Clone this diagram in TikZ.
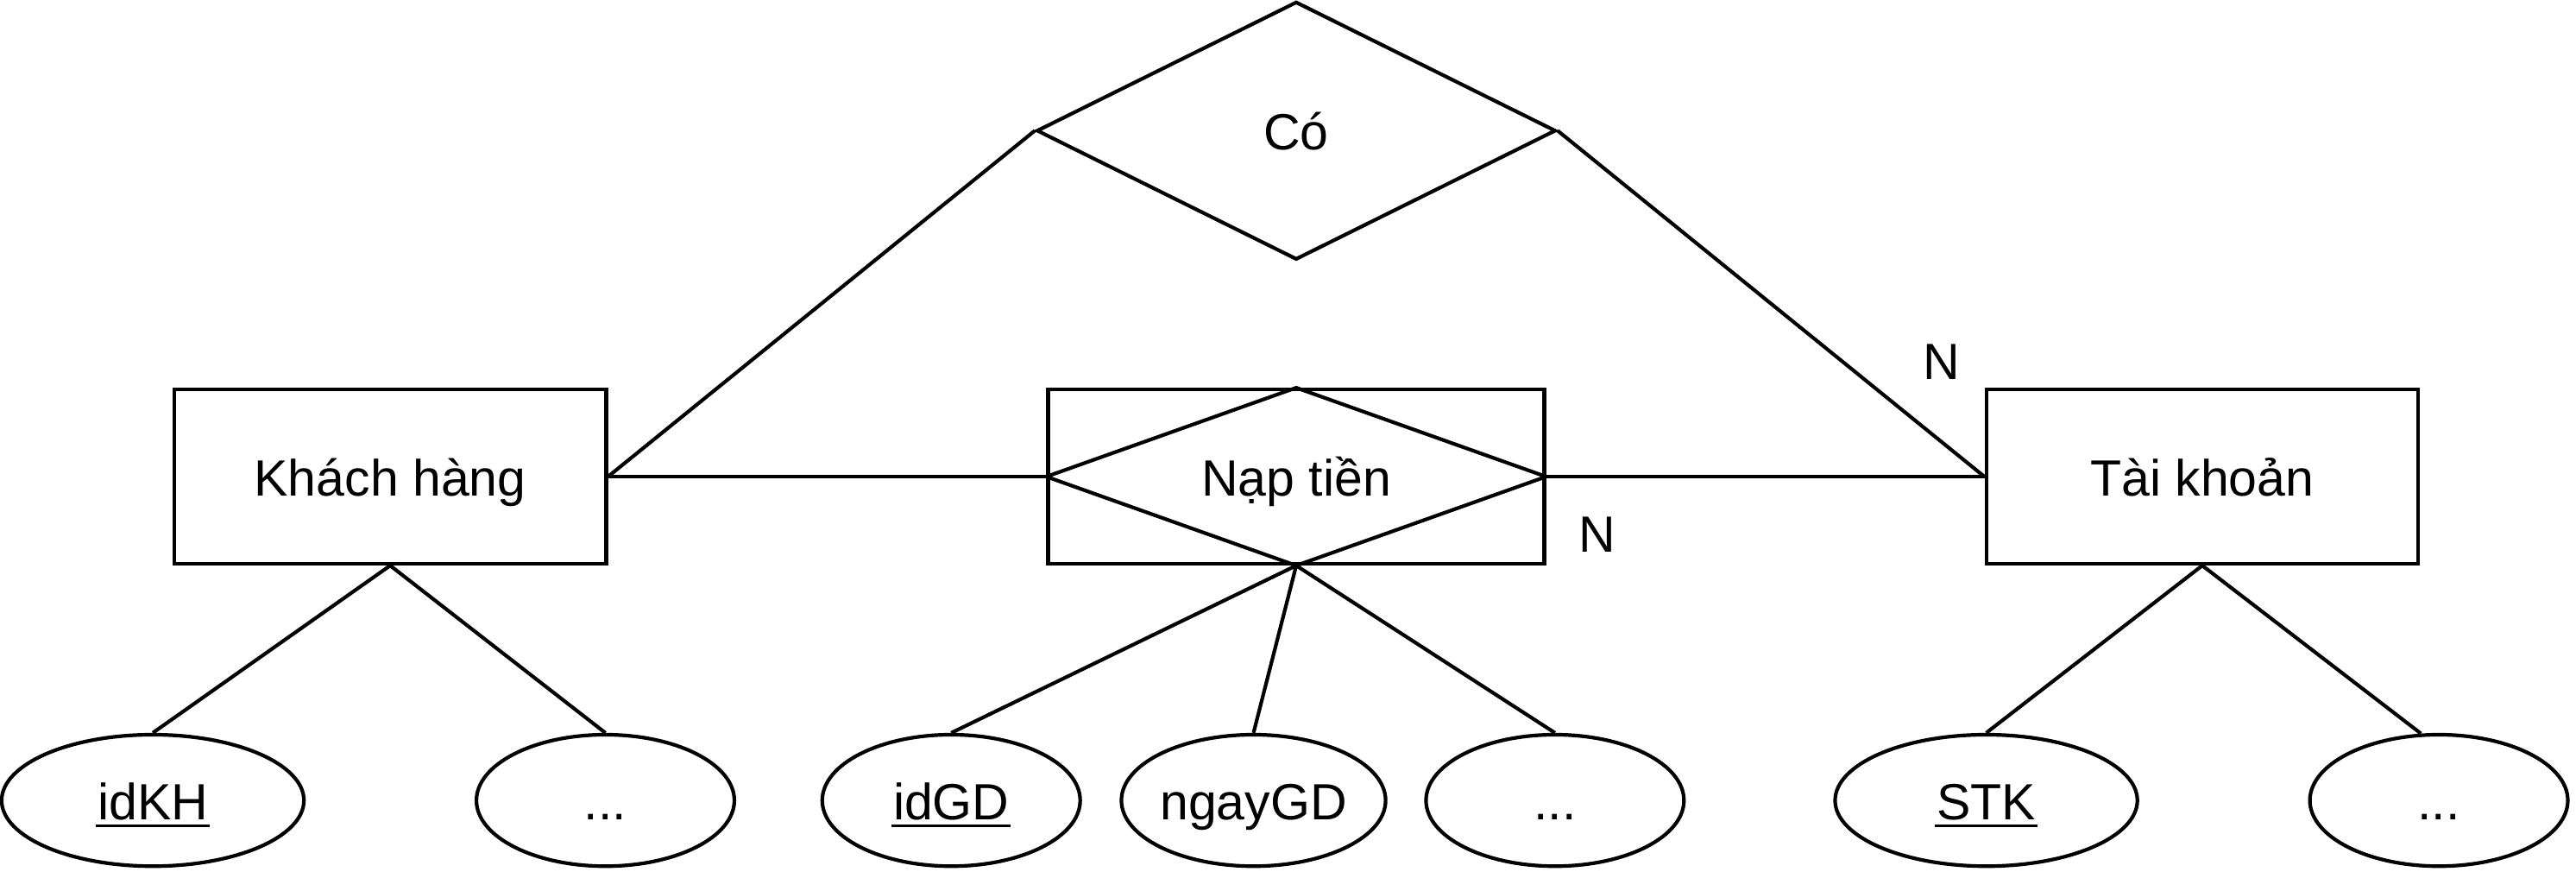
\documentclass[tikz,border=0pt]{standalone}
\usepackage{fontspec}
\setmainfont{Liberation Sans}
\usetikzlibrary{shapes.geometric}
\newcommand\keyul[1]{\setbox0\hbox{#1}\hbox{\rlap{\copy0}\kern-0.5pt\raisebox{-2.4pt}{\rule{\dimexpr\wd0+1pt\relax}{1pt}}\kern-0.5pt}}
\begin{document}
\begin{tikzpicture}[x=0.5pt,y=-0.5pt,
  every node/.style={font=\fontsize{15.5}{18}\selectfont},
  ln/.style={line width=1.1pt},
  txt/.style={text height=12pt,text depth=0.4pt,inner sep=0pt},
  entity/.style={draw,ln,txt,rectangle,minimum width=131.5pt,minimum height=53pt},
  weak/.style={draw,ln,txt,rectangle,minimum width=151pt,minimum height=53pt},
  rel/.style={draw,ln,txt,diamond,minimum width=158pt,minimum height=78.5pt},
  attrw/.style={draw,ln,txt,ellipse,minimum width=92pt,minimum height=40pt},
  attr/.style={draw,ln,txt,ellipse,minimum width=78.5pt,minimum height=40pt},
  card/.style={inner sep=0pt}]
\useasboundingbox (0,0) rectangle (1568,530.5);
\node[entity] (kh) at (237.5,290) {Khách hàng};
\node[weak] (nt) at (789,290) {Nạp tiền};
\node[entity] (tk) at (1340.5,290) {Tài khoản};
\node[rel] (co) at (789,79.5) {Có};
\draw[ln] (nt.north) -- (nt.east) -- (nt.south) -- (nt.west) -- cycle;
\node[attrw] (a1) at (93,487) {\keyul{idKH}};
\node[attr] (a2) at (368.5,487) {...};
\node[attr] (b1) at (579,487) {\keyul{idGD}};
\node[attr] (b2) at (763,487) {ngayGD};
\node[attr] (b3) at (946.5,487) {...};
\node[attrw] (c1) at (1209,487) {\keyul{STK}};
\node[attr] (c2) at (1484.5,487) {...};
\node[card] (n1) at (1182,220) {N};
\node[card] (n2) at (972,325) {N};
\draw[ln] (kh.east) -- (co.west);
\draw[ln] (co.east) -- (tk.west);
\draw[ln] (kh.east) -- (nt.west);
\draw[ln] (nt.east) -- (tk.west);
\draw[ln] (kh.south) -- (a1.north);
\draw[ln] (kh.south) -- (a2.north);
\draw[ln] (nt.south) -- (b1.north);
\draw[ln] (nt.south) -- (b2.north);
\draw[ln] (nt.south) -- (b3.north);
\draw[ln] (tk.south) -- (c1.north);
\draw[ln] (tk.south) -- (c2.105);
\end{tikzpicture}
\end{document}
